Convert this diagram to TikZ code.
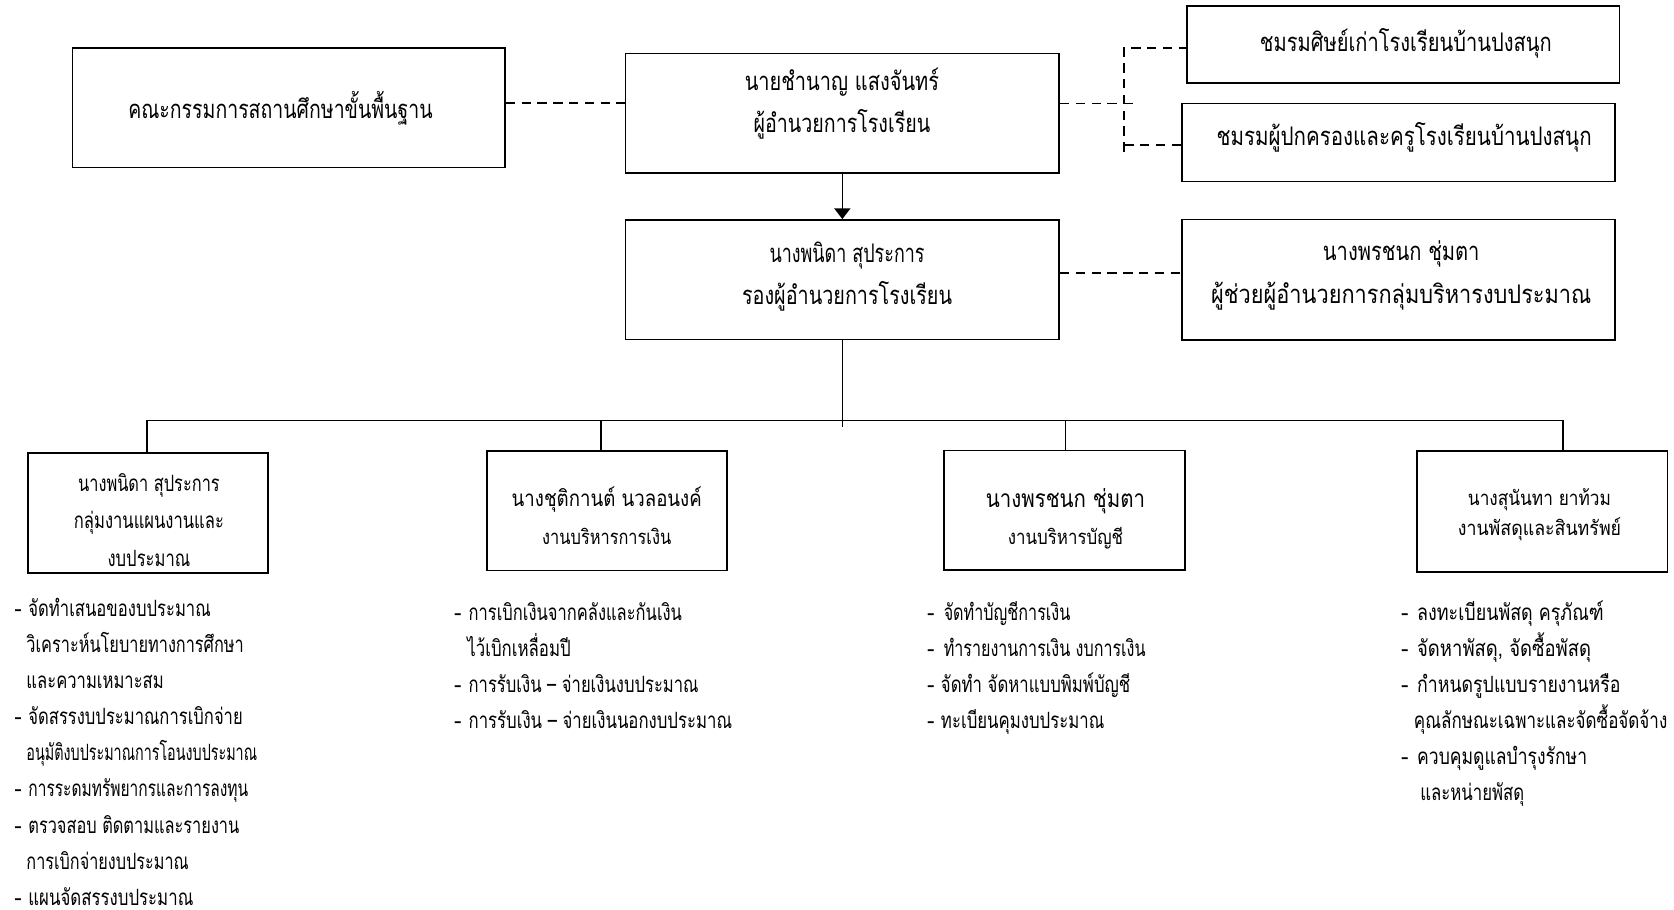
\documentclass[tikz,border=0pt]{standalone}
\usepackage{fontspec}
\usepackage{graphicx}
\newfontfamily\thai[Script=Thai]{Loma}
\usetikzlibrary{arrows.meta}
\newcommand\fw[2]{\resizebox{#1pt}{\height}{#2}}
\newcommand\bul[1]{\makebox[#1pt][l]{-}}
\begin{document}
\begin{tikzpicture}[x=0.5pt,y=-0.5pt,
  box/.style={draw, line width=0.8pt, inner sep=0pt},
  dline/.style={line width=0.75pt, dash pattern=on 4.4pt off 3pt},
  sline/.style={line width=0.7pt},
  big/.style={font=\thai\fontsize{12}{20}\selectfont, align=center, inner sep=0pt},
  med/.style={font=\thai\fontsize{10.5}{17.5}\selectfont, align=center, inner sep=0pt},
  lst/.style={font=\thai\fontsize{10.5}{16.9}\selectfont, align=left, anchor=north west, inner sep=0pt}]
\useasboundingbox (0,0) rectangle (1568,852);
% boxes
\node[box, minimum width=202.5pt, minimum height=56pt] (A) at (270.5,101) {};
\node[box, minimum width=203pt, minimum height=56pt] (B) at (789,106) {};
\node[box, minimum width=202.5pt, minimum height=36pt] (C1) at (1314.5,41.5) {};
\node[box, minimum width=203pt, minimum height=36.5pt] (C2) at (1310,133.5) {};
\node[box, minimum width=203pt, minimum height=56pt] (D) at (789,262) {};
\node[box, minimum width=203pt, minimum height=56.5pt] (E) at (1310,262) {};
\node[box, minimum width=112.5pt, minimum height=56.5pt] (F1) at (138.5,480.5) {};
\node[box, minimum width=112.5pt, minimum height=56pt] (F2) at (568.5,478.5) {};
\node[box, minimum width=113pt, minimum height=56pt] (F3) at (997,478) {};
\node[box, minimum width=117.5pt, minimum height=56.7pt] (F4) at (1444.5,479.2) {};
% box texts
\node[big] (At) at (262.7,101) {\fw{142.5}{คณะกรรมการสถานศึกษาขั้นพื้นฐาน}};
\node[big] (Bt) at (788.6,97) {\fw{91}{นายชำนาญ แสงจันทร์}\\\fw{82.75}{ผู้อำนวยการโรงเรียน}};
\node[big] (C1t) at (1316.8,41) {\fw{136.6}{ชมรมศิษย์เก่าโรงเรียนบ้านปงสนุก}};
\node[big] (C2t) at (1315.2,129) {\fw{175.65}{ชมรมผู้ปกครองและครูโรงเรียนบ้านปงสนุก}};
\node[big] (Dt) at (793.4,259) {\fw{72.6}{นางพนิดา สุประการ}\\\fw{98.35}{รองผู้อำนวยการโรงเรียน}};
\node[big] (Et) at (1312.5,258) {\fw{73.35}{นางพรชนก ชุ่มตา}\\\fw{178}{ผู้ช่วยผู้อำนวยการกลุ่มบริหารงบประมาณ}};
\node[med] (F1t) at (139.5,487) {\fw{66.35}{นางพนิดา สุประการ}\\\fw{70.25}{กลุ่มงานแผนงานและ}\\\fw{38.7}{งบประมาณ}};
\node[med] (F2t) at (568.3,483) {\fw{89}{นางชุติกานต์ นวลอนงค์}\\{\fontsize{9.5}{17.5}\selectfont\fw{60.4}{งานบริหารการเงิน}}};
\node[med] (F3t) at (998,486) {{\fontsize{11.5}{18}\selectfont\fw{74.5}{นางพรชนก ชุ่มตา}}\\{\fontsize{9.5}{17.5}\selectfont\fw{54}{งานบริหารบัญชี}}};
\node[med, font=\thai\fontsize{9.5}{14.4}\selectfont] (F4t) at (1442,482) {\fw{67}{นางสุนันทา ยาท้วม}\\\fw{76.5}{งานพัสดุและสินทรัพย์}};
% connectors
\coordinate (dAB) at (530,96.5);
\draw[dline] (A.east |- dAB) -- (B.west |- dAB);
\coordinate (hend) at (1066,97);
\coordinate (vtop) at (1053,45);
\coordinate (vbot) at (1053,142);
\coordinate (c2y) at (1053,136);
\draw[dline] (B.east |- hend) -- (hend);
\draw[dline] (vbot) -- (vtop) -- (C1.west |- vtop);
\draw[dline] (c2y) -- (C2.west |- c2y);
\draw[sline, -{Triangle[length=5pt,width=7.5pt]}] (B.south) -- (D.north);
\coordinate (dDE) at (1050,255.5);
\draw[dline] (D.east |- dDE) -- (E.west |- dDE);
\coordinate (busend) at (790,400);
\draw[sline] (D.south) -- (D.south |- busend);
\coordinate (b1) at (137.5,394);
\coordinate (b2) at (563,394);
\coordinate (b3) at (998,394);
\coordinate (b4) at (1464,394);
\draw[sline] (b1 |- F1.north) -- (b1) -- (b4) -- (b4 |- F4.north);
\draw[sline] (b2) -- (b2 |- F2.north);
\draw[sline] (b3) -- (b3 |- F3.north);
% lists
\node[lst] (L1) at (13,560) {\bul{6.6}\fw{85.4}{จัดทำเสนอของบประมาณ}\\\hspace*{5.7pt}\fw{101.8}{วิเคราะห์นโยบายทางการศึกษา}\\\hspace*{5.7pt}\fw{64.3}{และความเหมาะสม}\\\bul{6.6}\fw{100.4}{จัดสรรงบประมาณการเบิกจ่าย}\\\hspace*{5.7pt}\fw{108}{อนุมัติงบประมาณการโอนงบประมาณ}\\\bul{6.6}\fw{103}{การระดมทรัพยากรและการลงทุน}\\\bul{6.6}\fw{98.8}{ตรวจสอบ ติดตามและรายงาน}\\\hspace*{5.7pt}\fw{76}{การเบิกจ่ายงบประมาณ}\\\bul{6.6}\fw{77.25}{แผนจัดสรรงบประมาณ}};
\node[lst] (L2) at (425,564) {\bul{6.8}\fw{99.9}{การเบิกเงินจากคลังและกันเงิน}\\\hspace*{6.2pt}\fw{48.4}{ไว้เบิกเหลื่อมปี}\\\bul{6.8}\fw{107.7}{การรับเงิน – จ่ายเงินงบประมาณ}\\\bul{6.8}\fw{123.35}{การรับเงิน – จ่ายเงินนอกงบประมาณ}};
\node[lst] (L3) at (868,563) {\bul{7.8}\fw{59.3}{จัดทำบัญชีการเงิน}\\\bul{7.8}\fw{94.5}{ทำรายงานการเงิน งบการเงิน}\\\bul{6.5}\fw{88.65}{จัดทำ จัดหาแบบพิมพ์บัญชี}\\\bul{6.5}\fw{76.5}{ทะเบียนคุมงบประมาณ}};
\node[lst] (L4) at (1312,562) {\bul{7.5}\fw{87.4}{ลงทะเบียนพัสดุ ครุภัณฑ์}\\\bul{7.5}\fw{81.5}{จัดหาพัสดุ, จัดซื้อพัสดุ}\\\bul{7.5}\fw{95.25}{กำหนดรูปแบบรายงานหรือ}\\\hspace*{6pt}\fw{118.65}{คุณลักษณะเฉพาะและจัดซื้อจัดจ้าง}\\\bul{7.5}\fw{79.6}{ควบคุมดูแลบำรุงรักษา}\\\hspace*{9pt}\fw{48.7}{และหน่ายพัสดุ}};
\end{tikzpicture}
\end{document}
